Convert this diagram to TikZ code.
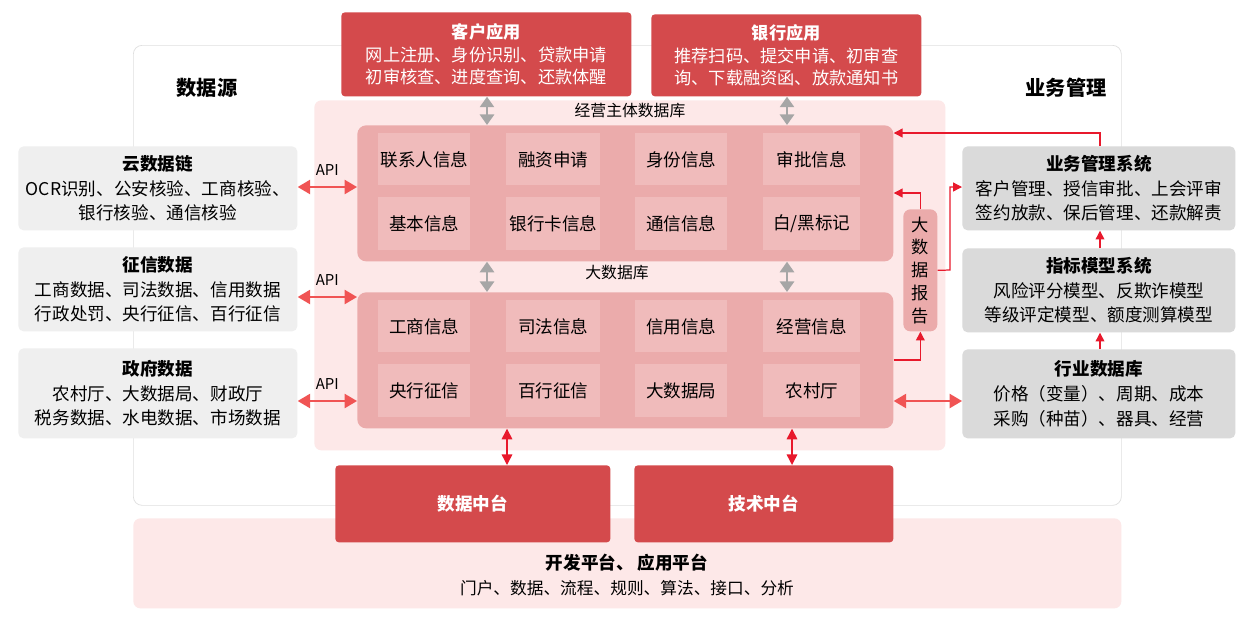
\documentclass[tikz,border=0pt]{standalone}
\usepackage{fontspec}
\setmainfont{Noto Sans CJK SC}
\usetikzlibrary{arrows.meta}
\definecolor{redbox}{HTML}{D44A4C}
\definecolor{pinkbg}{HTML}{FDE8E8}
\definecolor{dbbox}{HTML}{EBABAB}
\definecolor{cellc}{HTML}{F0BBBB}
\definecolor{lgray}{HTML}{EFEFEF}
\definecolor{dgray}{HTML}{DADADA}
\definecolor{arrred}{HTML}{E8192C}
\definecolor{salmon}{HTML}{F05454}
\newcommand{\bx}[7]{\node[#2, minimum width={(#5-#3)*0.02cm}, minimum height={(#6-#4)*0.02cm}, anchor=north west, inner sep=0pt] (#1) at (#3,#4) {#7};}
\tikzset{
  redb/.style={fill=redbox, rounded corners=2pt, text=white, align=center, font=\fontsize{9.8}{13}\selectfont},
  pinkb/.style={fill=pinkbg, rounded corners=4pt},
  dbb/.style={fill=dbbox, rounded corners=5pt},
  cellb/.style={fill=cellc, font=\fontsize{10}{12}\selectfont},
  lg/.style={fill=lgray, rounded corners=3pt, align=center, font=\fontsize{10}{14}\selectfont},
  dg/.style={fill=dgray, rounded corners=3pt, align=center, font=\fontsize{10}{14}\selectfont},
  grayarr/.style={draw=gray!70, line width=1.5pt, {Triangle[length=6pt,width=8pt]}-{Triangle[length=6pt,width=8pt]}},
  saarr/.style={draw=salmon, line width=1pt, {Triangle[length=7pt,width=8pt]}-{Triangle[length=7pt,width=8pt]}},
  rarr/.style={draw=arrred, line width=0.7pt, -{Triangle[length=5pt,width=5pt]}},
  rdarr/.style={draw=arrred, line width=0.8pt, {Triangle[length=6pt,width=6pt]}-{Triangle[length=6pt,width=6pt]}},
  lbl/.style={font=\fontsize{8.5}{10}\selectfont, inner sep=1pt},
}
\begin{document}
\begin{tikzpicture}[x=0.02cm,y=-0.02cm]
\useasboundingbox (0,0) rectangle (1250,616);
\fill[white] (0,0) rectangle (1250,616);
\bx{outer}{draw=gray!25, rounded corners=5pt, fill=white}{133}{45}{1121}{505}{}
\bx{pbg}{pinkb}{314}{100}{945}{450}{}
\bx{bottom}{pinkb}{133}{518}{1121}{608}{}
\node[font=\fontsize{10}{12}\selectfont\bfseries] (bt1) at (627,563) {开发平台、 应用平台};
\node[font=\fontsize{9.5}{12}\selectfont] (bt2) at (627,588) {门户、数据、流程、规则、算法、接口、分析};
\bx{cust}{redb}{341}{12}{631}{96}{\textbf{客户应用}\\网上注册、身份识别、贷款申请\\初审核查、进度查询、还款体醒}
\bx{bank}{redb}{651}{14}{921}{96}{\textbf{银行应用}\\推荐扫码、提交申请、初审查\\询、下载融资函、放款通知书}
\node[font=\fontsize{11.5}{14}\selectfont\bfseries] (t1) at (207,88) {数据源};
\node[font=\fontsize{11.5}{14}\selectfont\bfseries] (t2) at (1066,88) {业务管理};
\node[lbl, font=\fontsize{9}{11}\selectfont] (l1) at (630,111) {经营主体数据库};
\node[lbl, font=\fontsize{9}{11}\selectfont] (l2) at (617,273) {大数据库};
\bx{db1}{dbb}{357}{125}{893}{261}{}
\bx{db2}{dbb}{357}{292}{893}{428}{}
\bx{a1}{cellb}{378}{133}{470}{185}{联系人信息}
\bx{a2}{cellb}{506}{133}{600}{185}{融资申请}
\bx{a3}{cellb}{635}{133}{727}{185}{身份信息}
\bx{a4}{cellb}{763}{133}{860}{185}{审批信息}
\bx{a5}{cellb}{378}{197}{470}{250}{基本信息}
\bx{a6}{cellb}{506}{197}{600}{250}{银行卡信息}
\bx{a7}{cellb}{635}{197}{727}{250}{通信信息}
\bx{a8}{cellb}{763}{197}{860}{250}{白/黑标记}
\bx{b1}{cellb}{378}{300}{470}{352}{工商信息}
\bx{b2}{cellb}{506}{300}{600}{352}{司法信息}
\bx{b3}{cellb}{635}{300}{727}{352}{信用信息}
\bx{b4}{cellb}{763}{300}{860}{352}{经营信息}
\bx{b5}{cellb}{378}{364}{470}{417}{央行征信}
\bx{b6}{cellb}{506}{364}{600}{417}{百行征信}
\bx{b7}{cellb}{635}{364}{727}{417}{大数据局}
\bx{b8}{cellb}{763}{364}{860}{417}{农村厅}
\bx{rep}{dbb, rounded corners=4pt, align=center, font=\fontsize{9.8}{13}\selectfont}{903}{209}{937}{331}{大\\数\\据\\报\\告}
\bx{s1}{lg}{18}{146}{297}{230}{\textbf{云数据链}\\OCR识别、公安核验、工商核验、\\银行核验、通信核验}
\bx{s2}{lg}{18}{247}{297}{331}{\textbf{征信数据}\\工商数据、司法数据、信用数据\\行政处罚、央行征信、百行征信}
\bx{s3}{lg}{18}{348}{297}{438}{\textbf{政府数据}\\农村厅、大数据局、财政厅\\税务数据、水电数据、市场数据}
\bx{m1}{dg}{962}{146}{1235}{230}{\textbf{业务管理系统}\\客户管理、授信审批、上会评审\\签约放款、保后管理、还款解责}
\bx{m2}{dg}{962}{248}{1235}{332}{\textbf{指标模型系统}\\风险评分模型、反欺诈模型\\等级评定模型、额度测算模型}
\bx{m3}{dg}{962}{349}{1235}{438}{\textbf{行业数据库}\\价格（变量）、周期、成本\\采购（种苗）、器具、经营}
\bx{dc}{redb, font=\fontsize{10}{12}\selectfont\bfseries}{335}{465}{610}{542}{数据中台}
\bx{tc}{redb, font=\fontsize{10}{12}\selectfont\bfseries}{634}{465}{893}{542}{技术中台}
% gray arrows
\draw[grayarr] (cust.south -| 487,0) -- (db1.north -| 487,0);
\draw[grayarr] (bank.south -| 787,0) -- (db1.north -| 787,0);
\draw[grayarr] (db1.south -| 487,0) -- (db2.north -| 487,0);
\draw[grayarr] (db1.south -| 787,0) -- (db2.north -| 787,0);
% API arrows
\draw[saarr] (s1.east |- 0,187) -- (db1.west |- 0,187) node[lbl, midway, above=5pt] {API};
\draw[saarr] (s2.east |- 0,297) -- (db2.west |- 0,297) node[lbl, midway, above=5pt] {API};
\draw[saarr] (s3.east |- 0,401) -- (db2.west |- 0,401) node[lbl, midway, above=5pt] {API};
\draw[saarr] (db2.east |- 0,401) -- (m3.west |- 0,401);
% red connectors
\draw[rarr] (m1.north -| 1100,0) |- (db1.east |- 0,133);
\draw[rarr] (rep.north) |- (db1.east |- 0,193);
\draw[rarr] (db2.east |- 0,360) -| (rep.south);
\draw[rarr] (rep.east) -- (950,270) |- (m1.west |- 0,187);
\draw[rarr] (m2.north -| 1100,0) -- (m1.south -| 1100,0);
\draw[rarr] (m3.north -| 1100,0) -- (m2.south -| 1100,0);
\draw[rdarr] (db2.south -| 507,0) -- (dc.north -| 507,0);
\draw[rdarr] (db2.south -| 792,0) -- (tc.north -| 792,0);
\end{tikzpicture}
\end{document}
